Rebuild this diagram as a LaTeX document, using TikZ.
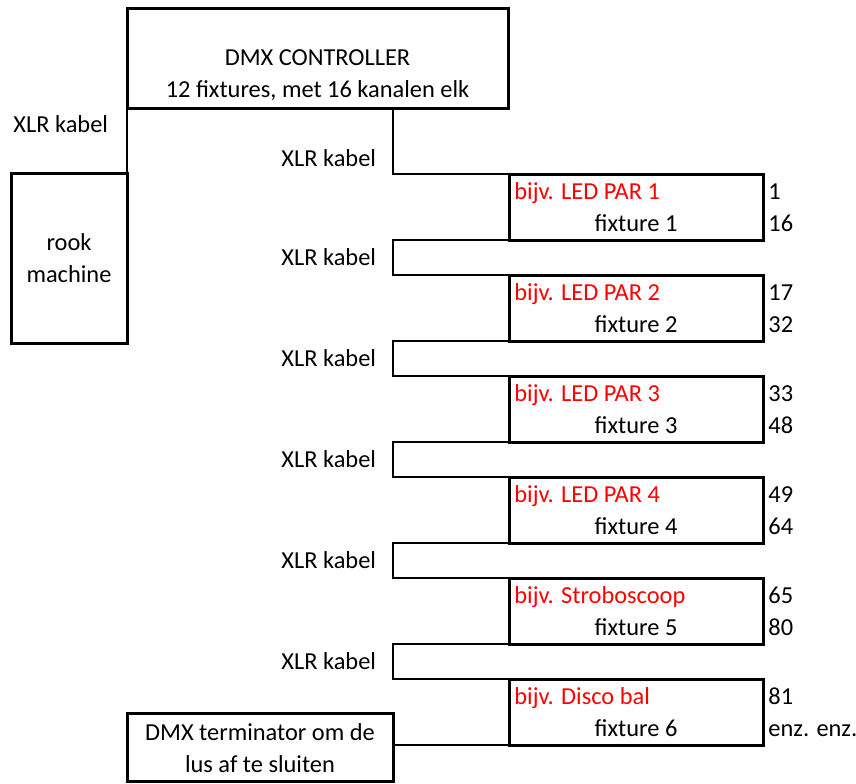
\documentclass[tikz,border=0pt]{standalone}
\usepackage{fontspec}
\setmainfont{Carlito}
\usepackage{xcolor}
\usepackage{tikz}
\usetikzlibrary{positioning}
\tikzstyle{box} = [rectangle, draw, line width=1.5pt, inner sep=0pt, outer sep=0pt]
\tikzstyle{fixture} = [box, minimum width=127pt, minimum height=33pt]
\tikzstyle{txt} = [inner sep=0pt, font=\fontsize{12.2}{16}\selectfont]
\tikzstyle{device} = [txt, text=red, anchor=base west]
\tikzstyle{chan} = [txt, anchor=base west]
\tikzstyle{cable} = [txt, pos=0.25, left=8pt]
\tikzstyle{edge} = [draw, line width=1pt]

\begin{document}
\begin{tikzpicture}[x=0.5pt, y=-0.5pt, node distance=50.5pt]
  \useasboundingbox (0,0) rectangle (856,783);
  % Place nodes
  % (base of a two-line node is the baseline of its last line)
  \node [box, minimum width=190.5pt, minimum height=49.75pt] (ctrl) at (317.5,58.25) {};
  \node [txt, align=center, anchor=base] (ctrltext) at ([yshift=-44.5pt]ctrl.north)
        {DMX CONTROLLER\\12 fixtures, met 16 kanalen elk};
  \node [box, minimum width=58pt, minimum height=85pt] (rook) at (69,258) {};
  \node [txt, align=center, anchor=base] (rooktext) at ([yshift=-54.5pt]rook.north) {rook\\machine};
  \node [box, minimum width=133pt, minimum height=34pt] (term) at (260,747) {};
  \node [txt, align=center, anchor=base] (termtext) at ([yshift=-29.5pt]term.north)
        {DMX terminator om de\\lus af te sluiten};
  \coordinate (out) at ([xshift=37.75pt]ctrl.south);

  \node [fixture] (fix1) at (636,207) {};
  \node [fixture, below of=fix1] (fix2) {};
  \node [fixture, below of=fix2] (fix3) {};
  \node [fixture, below of=fix3] (fix4) {};
  \node [fixture, below of=fix4] (fix5) {};
  \node [fixture, below of=fix5] (fix6) {};

  % Text in and beside the fixtures
  \node [device] (dev1) at ([xshift=2.5pt, yshift=-12.5pt]fix1.north west) {bijv. LED PAR 1};
  \node [device] (dev2) at ([xshift=2.5pt, yshift=-12.5pt]fix2.north west) {bijv. LED PAR 2};
  \node [device] (dev3) at ([xshift=2.5pt, yshift=-12.5pt]fix3.north west) {bijv. LED PAR 3};
  \node [device] (dev4) at ([xshift=2.5pt, yshift=-12.5pt]fix4.north west) {bijv. LED PAR 4};
  \node [device] (dev5) at ([xshift=2.5pt, yshift=-12.5pt]fix5.north west) {bijv. Stroboscoop};
  \node [device] (dev6) at ([xshift=2.5pt, yshift=-12.5pt]fix6.north west) {bijv. Disco bal};

  \node [txt, anchor=base] (name1) at ([yshift=4.5pt]fix1.south) {fixture 1};
  \node [txt, anchor=base] (name2) at ([yshift=4.5pt]fix2.south) {fixture 2};
  \node [txt, anchor=base] (name3) at ([yshift=4.5pt]fix3.south) {fixture 3};
  \node [txt, anchor=base] (name4) at ([yshift=4.5pt]fix4.south) {fixture 4};
  \node [txt, anchor=base] (name5) at ([yshift=4.5pt]fix5.south) {fixture 5};
  \node [txt, anchor=base] (name6) at ([yshift=4.5pt]fix6.south) {fixture 6};

  \node [chan] (first1) at ([xshift=2.5pt, yshift=-12.5pt]fix1.north east) {1};
  \node [chan] (last1) at ([xshift=2.5pt, yshift=4.5pt]fix1.south east) {16};
  \node [chan] (first2) at ([xshift=2.5pt, yshift=-12.5pt]fix2.north east) {17};
  \node [chan] (last2) at ([xshift=2.5pt, yshift=4.5pt]fix2.south east) {32};
  \node [chan] (first3) at ([xshift=2.5pt, yshift=-12.5pt]fix3.north east) {33};
  \node [chan] (last3) at ([xshift=2.5pt, yshift=4.5pt]fix3.south east) {48};
  \node [chan] (first4) at ([xshift=2.5pt, yshift=-12.5pt]fix4.north east) {49};
  \node [chan] (last4) at ([xshift=2.5pt, yshift=4.5pt]fix4.south east) {64};
  \node [chan] (first5) at ([xshift=2.5pt, yshift=-12.5pt]fix5.north east) {65};
  \node [chan] (last5) at ([xshift=2.5pt, yshift=4.5pt]fix5.south east) {80};
  \node [chan] (first6) at ([xshift=2.5pt, yshift=-12.5pt]fix6.north east) {81};
  \node [chan] (last6) at ([xshift=2.5pt, yshift=4.5pt]fix6.south east) {enz. enz.};

  % Draw edges
  \path [edge] (ctrl.south west) -- node [cable, left=9pt] {XLR kabel} (rook.north east);
  \path [edge] (out) |- node [cable, pos=0.38] {XLR kabel} (fix1.north west);
  \path [edge] (fix1.south west) -- (fix1.south west -| out) |- node [cable] {XLR kabel} (fix2.north west);
  \path [edge] (fix2.south west) -- (fix2.south west -| out) |- node [cable] {XLR kabel} (fix3.north west);
  \path [edge] (fix3.south west) -- (fix3.south west -| out) |- node [cable] {XLR kabel} (fix4.north west);
  \path [edge] (fix4.south west) -- (fix4.south west -| out) |- node [cable] {XLR kabel} (fix5.north west);
  \path [edge] (fix5.south west) -- (fix5.south west -| out) |- node [cable] {XLR kabel} (fix6.north west);
  \path [edge] (fix6.south west) -- (fix6.south west -| term.east);
\end{tikzpicture}
\end{document}
